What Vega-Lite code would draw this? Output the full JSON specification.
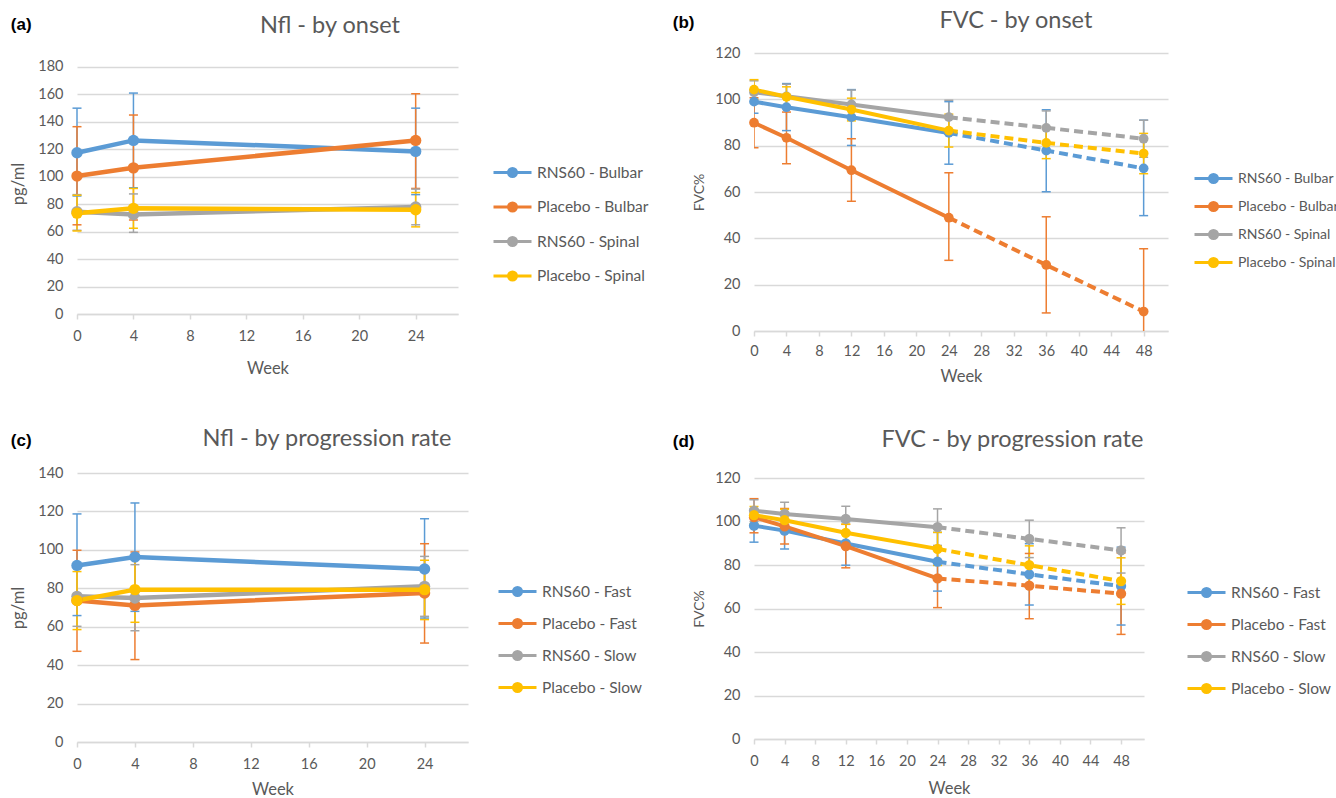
{
  "$schema": "https://vega.github.io/schema/vega-lite/v6.json",
  "padding": {"left": 10, "top": 8, "right": 0, "bottom": 0},
  "background": "white",
  "datasets": {
    "nflOnset": [
      {"series": "RNS60 - Bulbar", "week": 0, "value": 117.5, "lower": 86, "upper": 150},
      {"series": "RNS60 - Bulbar", "week": 4, "value": 126.5, "lower": 92, "upper": 161},
      {"series": "RNS60 - Bulbar", "week": 24, "value": 118.5, "lower": 87, "upper": 150},
      {"series": "Placebo - Bulbar", "week": 0, "value": 100.5, "lower": 65, "upper": 136.5},
      {"series": "Placebo - Bulbar", "week": 4, "value": 106.5, "lower": 68.5, "upper": 145},
      {"series": "Placebo - Bulbar", "week": 24, "value": 126.5, "lower": 91.5, "upper": 160.5},
      {"series": "RNS60 - Spinal", "week": 0, "value": 74.5, "lower": 61, "upper": 87},
      {"series": "RNS60 - Spinal", "week": 4, "value": 72.5, "lower": 59.5, "upper": 87.5},
      {"series": "RNS60 - Spinal", "week": 24, "value": 78, "lower": 65, "upper": 91},
      {"series": "Placebo - Spinal", "week": 0, "value": 73.5, "lower": 60.5, "upper": 86.5},
      {"series": "Placebo - Spinal", "week": 4, "value": 77, "lower": 62.5, "upper": 91.5},
      {"series": "Placebo - Spinal", "week": 24, "value": 76, "lower": 63.5, "upper": 88.5}
    ],
    "fvcOnset": [
      {"series": "RNS60 - Bulbar", "week": 0, "value": 99, "lower": 94, "upper": 104},
      {"series": "RNS60 - Bulbar", "week": 4, "value": 96.6, "lower": 86.5, "upper": 106.8},
      {"series": "RNS60 - Bulbar", "week": 12, "value": 92.3, "lower": 80.1, "upper": 104.2},
      {"series": "RNS60 - Bulbar", "week": 24, "value": 85.5, "lower": 72, "upper": 99},
      {"series": "RNS60 - Bulbar", "week": 36, "value": 77.9, "lower": 60.1, "upper": 95.5},
      {"series": "RNS60 - Bulbar", "week": 48, "value": 70.2, "lower": 49.8, "upper": 91},
      {"series": "Placebo - Bulbar", "week": 0, "value": 89.9, "lower": 79.1, "upper": 100.7},
      {"series": "Placebo - Bulbar", "week": 4, "value": 83.4, "lower": 72.2, "upper": 94.5},
      {"series": "Placebo - Bulbar", "week": 12, "value": 69.4, "lower": 56, "upper": 83},
      {"series": "Placebo - Bulbar", "week": 24, "value": 48.9, "lower": 30.5, "upper": 68.3},
      {"series": "Placebo - Bulbar", "week": 36, "value": 28.5, "lower": 7.8, "upper": 49.3},
      {"series": "Placebo - Bulbar", "week": 48, "value": 8.4, "lower": -18.7, "upper": 35.5},
      {"series": "RNS60 - Spinal", "week": 0, "value": 103, "lower": 98, "upper": 108},
      {"series": "RNS60 - Spinal", "week": 4, "value": 101.3, "lower": 96, "upper": 106.5},
      {"series": "RNS60 - Spinal", "week": 12, "value": 97.8, "lower": 91.5, "upper": 104},
      {"series": "RNS60 - Spinal", "week": 24, "value": 92.3, "lower": 85, "upper": 99.6},
      {"series": "RNS60 - Spinal", "week": 36, "value": 87.7, "lower": 80.5, "upper": 95},
      {"series": "RNS60 - Spinal", "week": 48, "value": 83, "lower": 75, "upper": 91},
      {"series": "Placebo - Spinal", "week": 0, "value": 104.2, "lower": 100, "upper": 108.5},
      {"series": "Placebo - Spinal", "week": 4, "value": 101.1, "lower": 96.8, "upper": 105.4},
      {"series": "Placebo - Spinal", "week": 12, "value": 95.6, "lower": 90.7, "upper": 100.5},
      {"series": "Placebo - Spinal", "week": 24, "value": 86.5, "lower": 79.4, "upper": 93.6},
      {"series": "Placebo - Spinal", "week": 36, "value": 81.2, "lower": 74.4, "upper": 88},
      {"series": "Placebo - Spinal", "week": 48, "value": 76.6, "lower": 67.9, "upper": 85.3}
    ],
    "nflRate": [
      {"series": "RNS60 - Fast", "week": 0, "value": 91.9, "lower": 65.8, "upper": 118.7},
      {"series": "RNS60 - Fast", "week": 4, "value": 96.3, "lower": 68, "upper": 124.4},
      {"series": "RNS60 - Fast", "week": 24, "value": 90, "lower": 64.5, "upper": 116.2},
      {"series": "Placebo - Fast", "week": 0, "value": 73.6, "lower": 47.2, "upper": 99.8},
      {"series": "Placebo - Fast", "week": 4, "value": 71.1, "lower": 42.9, "upper": 98.9},
      {"series": "Placebo - Fast", "week": 24, "value": 77.5, "lower": 51.5, "upper": 103.2},
      {"series": "RNS60 - Slow", "week": 0, "value": 75.8, "lower": 60.2, "upper": 91.4},
      {"series": "RNS60 - Slow", "week": 4, "value": 74.9, "lower": 57.9, "upper": 92.3},
      {"series": "RNS60 - Slow", "week": 24, "value": 81, "lower": 65.4, "upper": 96.6},
      {"series": "Placebo - Slow", "week": 0, "value": 73.6, "lower": 58.5, "upper": 88.7},
      {"series": "Placebo - Slow", "week": 4, "value": 79.3, "lower": 62.3, "upper": 96.3},
      {"series": "Placebo - Slow", "week": 24, "value": 79.3, "lower": 63.7, "upper": 94.6}
    ],
    "fvcRate": [
      {"series": "RNS60 - Fast", "week": 0, "value": 98.1, "lower": 90.5, "upper": 105.7},
      {"series": "RNS60 - Fast", "week": 4, "value": 95.8, "lower": 87.4, "upper": 104.2},
      {"series": "RNS60 - Fast", "week": 12, "value": 89.9, "lower": 79.9, "upper": 99.9},
      {"series": "RNS60 - Fast", "week": 24, "value": 81.5, "lower": 68, "upper": 95},
      {"series": "RNS60 - Fast", "week": 36, "value": 75.7, "lower": 61.6, "upper": 89.8},
      {"series": "RNS60 - Fast", "week": 48, "value": 70.3, "lower": 52.4, "upper": 88.2},
      {"series": "Placebo - Fast", "week": 0, "value": 102, "lower": 94.8, "upper": 110.5},
      {"series": "Placebo - Fast", "week": 4, "value": 97.8, "lower": 89.7, "upper": 106},
      {"series": "Placebo - Fast", "week": 12, "value": 88.7, "lower": 78.7, "upper": 98.7},
      {"series": "Placebo - Fast", "week": 24, "value": 73.8, "lower": 60.4, "upper": 87.2},
      {"series": "Placebo - Fast", "week": 36, "value": 70.5, "lower": 55.3, "upper": 85.3},
      {"series": "Placebo - Fast", "week": 48, "value": 66.8, "lower": 48.1, "upper": 85.5},
      {"series": "RNS60 - Slow", "week": 0, "value": 105, "lower": 100, "upper": 110},
      {"series": "RNS60 - Slow", "week": 4, "value": 103.5, "lower": 98.2, "upper": 108.8},
      {"series": "RNS60 - Slow", "week": 12, "value": 101.2, "lower": 95.4, "upper": 107},
      {"series": "RNS60 - Slow", "week": 24, "value": 97.4, "lower": 89, "upper": 105.8},
      {"series": "RNS60 - Slow", "week": 36, "value": 92, "lower": 83.4, "upper": 100.6},
      {"series": "RNS60 - Slow", "week": 48, "value": 86.7, "lower": 76.3, "upper": 97.1},
      {"series": "Placebo - Slow", "week": 0, "value": 102.9, "lower": 98.9, "upper": 106.9},
      {"series": "Placebo - Slow", "week": 4, "value": 100.6, "lower": 95.6, "upper": 105.6},
      {"series": "Placebo - Slow", "week": 12, "value": 94.8, "lower": 90.8, "upper": 98.8},
      {"series": "Placebo - Slow", "week": 24, "value": 87.4, "lower": 79.8, "upper": 95},
      {"series": "Placebo - Slow", "week": 36, "value": 79.9, "lower": 71, "upper": 88.8},
      {"series": "Placebo - Slow", "week": 48, "value": 72.6, "lower": 61.9, "upper": 83.3}
    ]
  },
  "hconcat": [
    {
      "vconcat": [
        {
          "title": {"text": "(a)", "anchor": "start", "frame": "bounds", "font": "Liberation Sans", "fontWeight": "bold", "fontSize": 17, "color": "#000000", "offset": -23, "dy": -3},
          "resolve": {"scale": {"color": "independent"}, "legend": {"color": "independent"}},
          "vconcat": [
            {
              "width": 381, "height": 261,
              "data": {"name": "nflOnset"},
              "title": {"text": "Nfl - by onset", "anchor": "middle", "frame": "bounds", "offset": 13, "dy": -3},
              "encoding": {
                "x": {"field": "week", "type": "quantitative", "scale": {"domain": [0, 27], "nice": false}, "axis": {"values": [0, 4, 8, 12, 16, 20, 24], "title": "Week", "labelPadding": 10, "titlePadding": 18}},
                "color": {"field": "series", "type": "nominal", "scale": {"domain": ["RNS60 - Bulbar", "Placebo - Bulbar", "RNS60 - Spinal", "Placebo - Spinal"], "range": ["#5B9BD5", "#ED7D31", "#A5A5A5", "#FFC000"]}, "legend": {"title": null, "orient": "none", "legendX": 415, "legendY": 108, "rowPadding": 12.5}}
              },
              "layer": [
                {"mark": {"type": "rule", "strokeWidth": 1.5}, "encoding": {"y": {"field": "lower", "type": "quantitative", "scale": {"domain": [0, 190.2], "nice": false}, "axis": {"values": [0, 20, 40, 60, 80, 100, 120, 140, 160, 180], "title": "pg/ml", "titlePadding": 11}}, "y2": {"field": "upper"}}},
                {"mark": {"type": "tick", "orient": "horizontal", "size": 9, "thickness": 1.5, "opacity": 1}, "encoding": {"y": {"field": "lower", "type": "quantitative", "scale": {"domain": [0, 190.2], "nice": false}, "axis": {"values": [0, 20, 40, 60, 80, 100, 120, 140, 160, 180], "title": "pg/ml", "titlePadding": 11}}}},
                {"mark": {"type": "tick", "orient": "horizontal", "size": 9, "thickness": 1.5, "opacity": 1}, "encoding": {"y": {"field": "upper", "type": "quantitative", "scale": {"domain": [0, 190.2], "nice": false}, "axis": {"values": [0, 20, 40, 60, 80, 100, 120, 140, 160, 180], "title": "pg/ml", "titlePadding": 11}}}},
                {"mark": {"type": "line", "strokeWidth": 4.5}, "encoding": {"y": {"field": "value", "type": "quantitative", "scale": {"domain": [0, 190.2], "nice": false}, "axis": {"values": [0, 20, 40, 60, 80, 100, 120, 140, 160, 180], "title": "pg/ml", "titlePadding": 11}}}},
                {"mark": {"type": "point", "filled": true, "size": 130, "opacity": 1, "strokeWidth": 0}, "encoding": {"y": {"field": "value", "type": "quantitative", "scale": {"domain": [0, 190.2], "nice": false}, "axis": {"values": [0, 20, 40, 60, 80, 100, 120, 140, 160, 180], "title": "pg/ml", "titlePadding": 11}}}},
                {"data": {"values": [{"label": "on-treatment"}]}, "mark": {"type": "text", "font": "Liberation Sans", "fontSize": 20}, "encoding": {"x": {"datum": 12.7, "type": "quantitative", "scale": {"domain": [0, 27], "nice": false}, "axis": {"values": [0, 4, 8, 12, 16, 20, 24], "title": "Week", "labelPadding": 10, "titlePadding": 18}}, "y": {"datum": 14, "type": "quantitative", "scale": {"domain": [0, 190.2], "nice": false}, "axis": {"values": [0, 20, 40, 60, 80, 100, 120, 140, 160, 180], "title": "pg/ml", "titlePadding": 11}}, "text": {"field": "label"}, "color": {"value": "#a6a6a6"}}}
              ]
            }
          ]
        },
        {
          "title": {"text": "(c)", "anchor": "start", "frame": "bounds", "font": "Liberation Sans", "fontWeight": "bold", "fontSize": 17, "color": "#000000", "offset": -23},
          "resolve": {"scale": {"color": "independent"}, "legend": {"color": "independent"}},
          "vconcat": [
            {
              "width": 391, "height": 269,
              "data": {"name": "nflRate"},
              "title": {"text": "Nfl - by progression rate", "anchor": "middle", "frame": "bounds", "offset": 15},
              "encoding": {
                "x": {"field": "week", "type": "quantitative", "scale": {"domain": [0, 27], "nice": false}, "axis": {"values": [0, 4, 8, 12, 16, 20, 24], "title": "Week", "labelPadding": 10, "titlePadding": 11}},
                "color": {"field": "series", "type": "nominal", "scale": {"domain": ["RNS60 - Fast", "Placebo - Fast", "RNS60 - Slow", "Placebo - Slow"], "range": ["#5B9BD5", "#ED7D31", "#A5A5A5", "#FFC000"]}, "legend": {"title": null, "orient": "none", "legendX": 420, "legendY": 107, "rowPadding": 10}}
              },
              "layer": [
                {"mark": {"type": "rule", "strokeWidth": 1.5}, "encoding": {"y": {"field": "lower", "type": "quantitative", "scale": {"domain": [0, 140], "nice": false}, "axis": {"values": [0, 20, 40, 60, 80, 100, 120, 140], "title": "pg/ml", "titlePadding": 11}}, "y2": {"field": "upper"}}},
                {"mark": {"type": "tick", "orient": "horizontal", "size": 9, "thickness": 1.5, "opacity": 1}, "encoding": {"y": {"field": "lower", "type": "quantitative", "scale": {"domain": [0, 140], "nice": false}, "axis": {"values": [0, 20, 40, 60, 80, 100, 120, 140], "title": "pg/ml", "titlePadding": 11}}}},
                {"mark": {"type": "tick", "orient": "horizontal", "size": 9, "thickness": 1.5, "opacity": 1}, "encoding": {"y": {"field": "upper", "type": "quantitative", "scale": {"domain": [0, 140], "nice": false}, "axis": {"values": [0, 20, 40, 60, 80, 100, 120, 140], "title": "pg/ml", "titlePadding": 11}}}},
                {"mark": {"type": "line", "strokeWidth": 4.5}, "encoding": {"y": {"field": "value", "type": "quantitative", "scale": {"domain": [0, 140], "nice": false}, "axis": {"values": [0, 20, 40, 60, 80, 100, 120, 140], "title": "pg/ml", "titlePadding": 11}}}},
                {"mark": {"type": "point", "filled": true, "size": 130, "opacity": 1, "strokeWidth": 0}, "encoding": {"y": {"field": "value", "type": "quantitative", "scale": {"domain": [0, 140], "nice": false}, "axis": {"values": [0, 20, 40, 60, 80, 100, 120, 140], "title": "pg/ml", "titlePadding": 11}}}},
                {"data": {"values": [{"label": "on-treatment"}]}, "mark": {"type": "text", "font": "Liberation Sans", "fontSize": 20}, "encoding": {"x": {"datum": 13.1, "type": "quantitative", "scale": {"domain": [0, 27], "nice": false}, "axis": {"values": [0, 4, 8, 12, 16, 20, 24], "title": "Week", "labelPadding": 10, "titlePadding": 11}}, "y": {"datum": 10.6, "type": "quantitative", "scale": {"domain": [0, 140], "nice": false}, "axis": {"values": [0, 20, 40, 60, 80, 100, 120, 140], "title": "pg/ml", "titlePadding": 11}}, "text": {"field": "label"}, "color": {"value": "#a6a6a6"}}}
              ]
            }
          ]
        }
      ],
      "spacing": 49,
      "resolve": {"scale": {"color": "independent"}, "legend": {"color": "independent"}}
    },
    {
      "vconcat": [
        {
          "title": {"text": "(b)", "anchor": "start", "frame": "bounds", "font": "Liberation Sans", "fontWeight": "bold", "fontSize": 17, "color": "#000000", "offset": -23, "dx": -20},
          "resolve": {"scale": {"color": "independent"}, "legend": {"color": "independent"}},
          "vconcat": [
            {
              "width": 414, "height": 278,
              "data": {"name": "fvcOnset"},
              "title": {"text": "FVC - by onset", "anchor": "middle", "frame": "bounds", "offset": 13},
              "encoding": {
                "x": {"field": "week", "type": "quantitative", "scale": {"domain": [0, 51], "nice": false}, "axis": {"values": [0, 4, 8, 12, 16, 20, 24, 28, 32, 36, 40, 44, 48], "title": "Week", "labelPadding": 8, "titlePadding": 11}},
                "color": {"field": "series", "type": "nominal", "scale": {"domain": ["RNS60 - Bulbar", "Placebo - Bulbar", "RNS60 - Spinal", "Placebo - Spinal"], "range": ["#5B9BD5", "#ED7D31", "#A5A5A5", "#FFC000"]}, "legend": {"title": null, "orient": "none", "legendX": 439, "legendY": 114, "rowPadding": 6, "labelFontSize": 14}}
              },
              "layer": [
                {"data": {"values": [{}]}, "mark": {"type": "rule", "strokeWidth": 1}, "encoding": {"x": {"datum": 24, "type": "quantitative", "scale": {"domain": [0, 51], "nice": false}, "axis": {"values": [0, 4, 8, 12, 16, 20, 24, 28, 32, 36, 40, 44, 48], "title": "Week", "labelPadding": 8, "titlePadding": 11}}, "color": {"value": "#808080"}}},
                {"mark": {"type": "rule", "strokeWidth": 1.5, "clip": true}, "encoding": {"y": {"field": "lower", "type": "quantitative", "scale": {"domain": [0, 120], "nice": false}, "axis": {"values": [0, 20, 40, 60, 80, 100, 120], "title": "FVC%", "titleFontSize": 14, "titlePadding": 8}}, "y2": {"field": "upper"}}},
                {"mark": {"type": "tick", "orient": "horizontal", "size": 9, "thickness": 1.5, "opacity": 1, "clip": true}, "encoding": {"y": {"field": "lower", "type": "quantitative", "scale": {"domain": [0, 120], "nice": false}, "axis": {"values": [0, 20, 40, 60, 80, 100, 120], "title": "FVC%", "titleFontSize": 14, "titlePadding": 8}}}},
                {"mark": {"type": "tick", "orient": "horizontal", "size": 9, "thickness": 1.5, "opacity": 1}, "encoding": {"y": {"field": "upper", "type": "quantitative", "scale": {"domain": [0, 120], "nice": false}, "axis": {"values": [0, 20, 40, 60, 80, 100, 120], "title": "FVC%", "titleFontSize": 14, "titlePadding": 8}}}},
                {"transform": [{"filter": "datum.week <= 24"}], "mark": {"type": "line", "strokeWidth": 4}, "encoding": {"y": {"field": "value", "type": "quantitative", "scale": {"domain": [0, 120], "nice": false}, "axis": {"values": [0, 20, 40, 60, 80, 100, 120], "title": "FVC%", "titleFontSize": 14, "titlePadding": 8}}}},
                {"transform": [{"filter": "datum.week >= 24"}], "mark": {"type": "line", "strokeWidth": 4, "strokeDash": [9, 5]}, "encoding": {"y": {"field": "value", "type": "quantitative", "scale": {"domain": [0, 120], "nice": false}, "axis": {"values": [0, 20, 40, 60, 80, 100, 120], "title": "FVC%", "titleFontSize": 14, "titlePadding": 8}}}},
                {"mark": {"type": "point", "filled": true, "size": 95, "opacity": 1, "strokeWidth": 0}, "encoding": {"y": {"field": "value", "type": "quantitative", "scale": {"domain": [0, 120], "nice": false}, "axis": {"values": [0, 20, 40, 60, 80, 100, 120], "title": "FVC%", "titleFontSize": 14, "titlePadding": 8}}}},
                {"data": {"values": [{"label": "on-treatment"}]}, "mark": {"type": "text", "font": "Liberation Sans", "fontSize": 20}, "encoding": {"x": {"datum": 13.2, "type": "quantitative", "scale": {"domain": [0, 51], "nice": false}, "axis": {"values": [0, 4, 8, 12, 16, 20, 24, 28, 32, 36, 40, 44, 48], "title": "Week", "labelPadding": 8, "titlePadding": 11}}, "y": {"datum": 9.4, "type": "quantitative", "scale": {"domain": [0, 120], "nice": false}, "axis": {"values": [0, 20, 40, 60, 80, 100, 120], "title": "FVC%", "titleFontSize": 14, "titlePadding": 8}}, "text": {"field": "label"}, "color": {"value": "#a6a6a6"}}},
                {"data": {"values": [{"label": "off-treatment"}]}, "mark": {"type": "text", "font": "Liberation Sans", "fontSize": 20}, "encoding": {"x": {"datum": 34.7, "type": "quantitative", "scale": {"domain": [0, 51], "nice": false}, "axis": {"values": [0, 4, 8, 12, 16, 20, 24, 28, 32, 36, 40, 44, 48], "title": "Week", "labelPadding": 8, "titlePadding": 11}}, "y": {"datum": 9.4, "type": "quantitative", "scale": {"domain": [0, 120], "nice": false}, "axis": {"values": [0, 20, 40, 60, 80, 100, 120], "title": "FVC%", "titleFontSize": 14, "titlePadding": 8}}, "text": {"field": "label"}, "color": {"value": "#a6a6a6"}}}
              ]
            }
          ]
        },
        {
          "title": {"text": "(d)", "anchor": "start", "frame": "bounds", "font": "Liberation Sans", "fontWeight": "bold", "fontSize": 17, "color": "#000000", "offset": -23, "dx": -20},
          "resolve": {"scale": {"color": "independent"}, "legend": {"color": "independent"}},
          "vconcat": [
            {
              "width": 390, "height": 261,
              "data": {"name": "fvcRate"},
              "title": {"text": "FVC - by progression rate", "anchor": "middle", "frame": "bounds", "offset": 19},
              "encoding": {
                "x": {"field": "week", "type": "quantitative", "scale": {"domain": [0, 51], "nice": false}, "axis": {"values": [0, 4, 8, 12, 16, 20, 24, 28, 32, 36, 40, 44, 48], "title": "Week", "labelPadding": 10, "titlePadding": 13}},
                "color": {"field": "series", "type": "nominal", "scale": {"domain": ["RNS60 - Fast", "Placebo - Fast", "RNS60 - Slow", "Placebo - Slow"], "range": ["#5B9BD5", "#ED7D31", "#A5A5A5", "#FFC000"]}, "legend": {"title": null, "orient": "none", "legendX": 432, "legendY": 103, "rowPadding": 10}}
              },
              "layer": [
                {"data": {"values": [{}]}, "mark": {"type": "rule", "strokeWidth": 1}, "encoding": {"x": {"datum": 24, "type": "quantitative", "scale": {"domain": [0, 51], "nice": false}, "axis": {"values": [0, 4, 8, 12, 16, 20, 24, 28, 32, 36, 40, 44, 48], "title": "Week", "labelPadding": 10, "titlePadding": 13}}, "color": {"value": "#808080"}}},
                {"mark": {"type": "rule", "strokeWidth": 1.5}, "encoding": {"y": {"field": "lower", "type": "quantitative", "scale": {"domain": [0, 120], "nice": false}, "axis": {"values": [0, 20, 40, 60, 80, 100, 120], "title": "FVC%", "titleFontSize": 14, "titlePadding": 8}}, "y2": {"field": "upper"}}},
                {"mark": {"type": "tick", "orient": "horizontal", "size": 9, "thickness": 1.5, "opacity": 1}, "encoding": {"y": {"field": "lower", "type": "quantitative", "scale": {"domain": [0, 120], "nice": false}, "axis": {"values": [0, 20, 40, 60, 80, 100, 120], "title": "FVC%", "titleFontSize": 14, "titlePadding": 8}}}},
                {"mark": {"type": "tick", "orient": "horizontal", "size": 9, "thickness": 1.5, "opacity": 1}, "encoding": {"y": {"field": "upper", "type": "quantitative", "scale": {"domain": [0, 120], "nice": false}, "axis": {"values": [0, 20, 40, 60, 80, 100, 120], "title": "FVC%", "titleFontSize": 14, "titlePadding": 8}}}},
                {"transform": [{"filter": "datum.week <= 24"}], "mark": {"type": "line", "strokeWidth": 4}, "encoding": {"y": {"field": "value", "type": "quantitative", "scale": {"domain": [0, 120], "nice": false}, "axis": {"values": [0, 20, 40, 60, 80, 100, 120], "title": "FVC%", "titleFontSize": 14, "titlePadding": 8}}}},
                {"transform": [{"filter": "datum.week >= 24"}], "mark": {"type": "line", "strokeWidth": 4, "strokeDash": [9, 5]}, "encoding": {"y": {"field": "value", "type": "quantitative", "scale": {"domain": [0, 120], "nice": false}, "axis": {"values": [0, 20, 40, 60, 80, 100, 120], "title": "FVC%", "titleFontSize": 14, "titlePadding": 8}}}},
                {"mark": {"type": "point", "filled": true, "size": 105, "opacity": 1, "strokeWidth": 0}, "encoding": {"y": {"field": "value", "type": "quantitative", "scale": {"domain": [0, 120], "nice": false}, "axis": {"values": [0, 20, 40, 60, 80, 100, 120], "title": "FVC%", "titleFontSize": 14, "titlePadding": 8}}}},
                {"data": {"values": [{"label": "on-treatment"}]}, "mark": {"type": "text", "font": "Liberation Sans", "fontSize": 20}, "encoding": {"x": {"datum": 12.5, "type": "quantitative", "scale": {"domain": [0, 51], "nice": false}, "axis": {"values": [0, 4, 8, 12, 16, 20, 24, 28, 32, 36, 40, 44, 48], "title": "Week", "labelPadding": 10, "titlePadding": 13}}, "y": {"datum": 9.9, "type": "quantitative", "scale": {"domain": [0, 120], "nice": false}, "axis": {"values": [0, 20, 40, 60, 80, 100, 120], "title": "FVC%", "titleFontSize": 14, "titlePadding": 8}}, "text": {"field": "label"}, "color": {"value": "#a6a6a6"}}},
                {"data": {"values": [{"label": "off-treatment"}]}, "mark": {"type": "text", "font": "Liberation Sans", "fontSize": 20}, "encoding": {"x": {"datum": 35.2, "type": "quantitative", "scale": {"domain": [0, 51], "nice": false}, "axis": {"values": [0, 4, 8, 12, 16, 20, 24, 28, 32, 36, 40, 44, 48], "title": "Week", "labelPadding": 10, "titlePadding": 13}}, "y": {"datum": 9.9, "type": "quantitative", "scale": {"domain": [0, 120], "nice": false}, "axis": {"values": [0, 20, 40, 60, 80, 100, 120], "title": "FVC%", "titleFontSize": 14, "titlePadding": 8}}, "text": {"field": "label"}, "color": {"value": "#a6a6a6"}}}
              ]
            }
          ]
        }
      ],
      "spacing": 42,
      "resolve": {"scale": {"color": "independent"}, "legend": {"color": "independent"}}
    }
  ],
  "spacing": 23,
  "resolve": {"scale": {"color": "independent"}, "legend": {"color": "independent"}},
  "config": {
    "view": {"stroke": null},
    "font": "Lato",
    "title": {"font": "Lato", "fontSize": 23.5, "fontWeight": "normal", "color": "#595959"},
    "axis": {"labelFont": "Lato", "labelFontSize": 14.5, "labelColor": "#595959", "titleFont": "Lato", "titleFontWeight": "normal", "titleColor": "#595959", "gridColor": "#d9d9d9", "gridWidth": 1.3},
    "axisX": {"grid": false, "domainColor": "#d9d9d9", "domainWidth": 1.5, "tickColor": "#d9d9d9", "tickWidth": 1.5, "tickSize": 5, "labelPadding": 8, "labelFlush": false, "labelOverlap": false, "labelAngle": 0, "titleFontSize": 16.5, "titlePadding": 12},
    "axisY": {"domain": false, "ticks": false, "tickSize": 0, "labelPadding": 14, "titlePadding": 8, "titleFontSize": 16.5, "labelOverlap": false},
    "legend": {"labelFont": "Lato", "labelFontSize": 15.5, "labelColor": "#595959", "symbolType": "M-1,0H2.8M1.3,0A0.4,0.4,0,1,1,0.5,0A0.4,0.4,0,1,1,1.3,0Z", "symbolSize": 400, "symbolStrokeWidth": 3, "labelOffset": 22, "padding": 0, "symbolOpacity": 1}
  }
}
